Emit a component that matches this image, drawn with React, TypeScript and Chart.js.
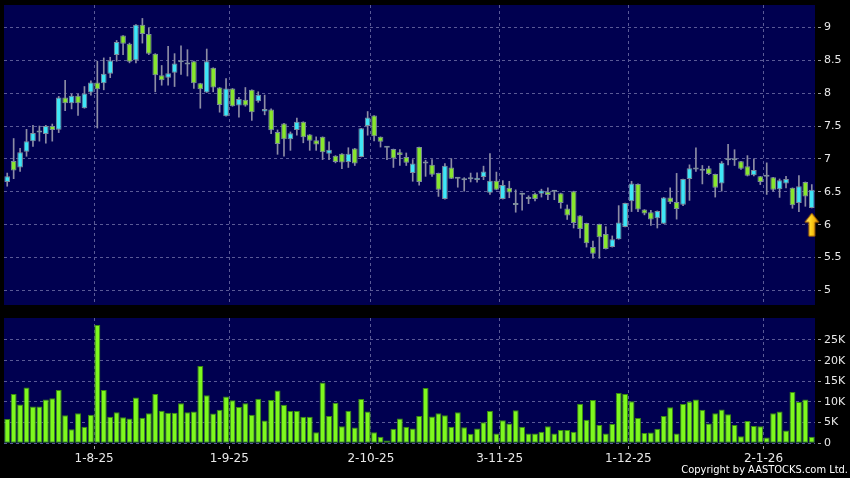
import React, { useEffect, useRef } from 'react';
import { Chart, registerables } from 'chart.js';
Chart.register(...registerables);

// ---- Data ----
const openP = [
  6.65, 6.97, 6.87, 7.11, 7.27, 7.40, 7.38, 7.50, 7.445, 7.935,
  7.845, 7.96, 7.77, 8.01, 8.16, 8.15, 8.295, 8.58, 8.875, 8.75,
  8.50, 9.04, 8.90, 8.60, 8.27, 8.235, 8.31, 8.47, 8.46, 8.485,
  8.15, 8.01, 8.385, 8.085, 7.65, 8.07, 7.81, 7.90, 8.05, 7.875,
  7.72, 7.75, 7.41, 7.54, 7.30, 7.44, 7.565, 7.37, 7.285, 7.335,
  7.08, 7.05, 7.08, 6.955, 7.16, 7.03, 7.50, 7.66, 7.335, 7.17,
  7.15, 7.10, 7.03, 6.785, 7.18, 6.95, 6.91, 6.785, 6.39, 6.87,
  6.70, 6.675, 6.70, 6.68, 6.725, 6.485, 6.67, 6.39, 6.56, 6.30,
  6.48, 6.39, 6.47, 6.47, 6.50, 6.50, 6.48, 6.245, 6.51, 6.14,
  6.025, 5.66, 6.01, 5.86, 5.66, 5.78, 5.965, 6.355, 6.62, 6.23,
  6.19, 6.10, 6.015, 6.415, 6.345, 6.305, 6.695, 6.86, 6.83, 6.86,
  6.77, 6.625, 6.98, 6.98, 6.965, 6.89, 6.75, 6.735, 6.74, 6.72,
  6.54, 6.625, 6.56, 6.33, 6.65, 6.255,
];
const highP = [
  6.785, 7.31, 7.16, 7.45, 7.51, 7.50, 7.51, 7.53, 7.95, 8.195,
  7.985, 7.985, 8.10, 8.185, 8.485, 8.535, 8.545, 8.80, 8.875, 8.76,
  9.04, 9.135, 8.985, 8.60, 8.42, 8.71, 8.60, 8.72, 8.66, 8.485,
  8.15, 8.67, 8.385, 8.085, 8.22, 8.07, 7.935, 8.085, 8.05, 8.02,
  7.97, 7.76, 7.44, 7.54, 7.41, 7.62, 7.565, 7.37, 7.335, 7.335,
  7.26, 7.05, 7.08, 7.17, 7.16, 7.465, 7.72, 7.66, 7.335, 7.19,
  7.15, 7.14, 7.09, 6.99, 7.18, 6.98, 6.99, 6.785, 6.93, 7.005,
  6.715, 6.715, 6.785, 6.79, 6.89, 7.08, 6.80, 6.67, 6.66, 6.53,
  6.48, 6.44, 6.48, 6.54, 6.56, 6.51, 6.48, 6.30, 6.51, 6.14,
  6.025, 5.75, 6.01, 5.97, 5.83, 6.29, 6.33, 6.66, 6.62, 6.23,
  6.22, 6.21, 6.415, 6.56, 6.78, 6.695, 6.91, 7.17, 6.90, 6.89,
  6.77, 6.96, 7.22, 7.14, 6.965, 7.05, 7.00, 6.735, 6.94, 6.72,
  6.695, 6.735, 6.56, 6.745, 6.65, 6.61,
];
const lowP = [
  6.585, 6.70, 6.81, 7.04, 7.19, 7.27, 7.24, 7.27, 7.40, 7.735,
  7.76, 7.66, 7.77, 7.97, 7.47, 8.05, 8.235, 8.485, 8.585, 8.46,
  8.46, 8.76, 8.585, 8.02, 8.12, 8.12, 8.10, 8.285, 8.26, 8.07,
  7.77, 8.01, 8.02, 7.71, 7.65, 7.80, 7.635, 7.80, 7.585, 7.86,
  7.67, 7.385, 7.07, 7.04, 7.13, 7.36, 7.245, 7.13, 7.13, 6.99,
  6.99, 6.94, 6.85, 6.87, 6.90, 7.03, 7.36, 7.275, 7.18, 6.99,
  6.87, 6.90, 6.90, 6.66, 6.60, 6.735, 6.735, 6.43, 6.39, 6.70,
  6.57, 6.51, 6.65, 6.645, 6.685, 6.46, 6.53, 6.39, 6.41, 6.19,
  6.22, 6.32, 6.36, 6.42, 6.38, 6.38, 6.25, 6.08, 5.95, 5.80,
  5.66, 5.49, 5.49, 5.63, 5.66, 5.78, 5.965, 6.20, 6.20, 6.15,
  5.99, 5.95, 6.015, 6.32, 6.085, 6.29, 6.37, 6.81, 6.62, 6.76,
  6.42, 6.51, 6.91, 6.90, 6.84, 6.74, 6.74, 6.61, 6.46, 6.51,
  6.415, 6.56, 6.25, 6.20, 6.28, 6.255,
];
const closeP = [
  6.735, 6.825, 7.10, 7.27, 7.395, 7.41, 7.50, 7.44, 7.935, 7.845,
  7.96, 7.845, 7.995, 8.16, 8.06, 8.295, 8.495, 8.775, 8.75, 8.475,
  9.04, 8.90, 8.60, 8.27, 8.195, 8.30, 8.45, 8.48, 8.435, 8.15,
  8.06, 8.485, 8.085, 7.82, 8.07, 7.80, 7.91, 7.81, 7.71, 7.975,
  7.76, 7.435, 7.225, 7.30, 7.39, 7.565, 7.33, 7.275, 7.22, 7.10,
  7.14, 6.955, 6.945, 7.08, 6.93, 7.465, 7.63, 7.345, 7.26, 7.17,
  7.005, 7.06, 6.94, 6.93, 6.65, 6.93, 6.76, 6.53, 6.895, 6.70,
  6.70, 6.70, 6.69, 6.715, 6.81, 6.67, 6.53, 6.605, 6.49, 6.30,
  6.455, 6.39, 6.39, 6.52, 6.45, 6.50, 6.33, 6.14, 6.025, 5.935,
  5.72, 5.56, 5.81, 5.63, 5.78, 6.035, 6.33, 6.625, 6.23, 6.17,
  6.08, 6.21, 6.415, 6.34, 6.24, 6.695, 6.86, 6.84, 6.82, 6.77,
  6.56, 6.94, 6.98, 6.98, 6.85, 6.745, 6.83, 6.65, 6.73, 6.53,
  6.675, 6.695, 6.295, 6.585, 6.43, 6.53,
];
// volume in thousands of shares
const volumeK = [
  5.9, 11.9, 9.4, 13.5, 8.9, 8.9, 10.6, 10.9, 12.9, 6.8,
  3.4, 7.3, 4.0, 6.9, 28.6, 12.9, 6.4, 7.5, 6.3, 6.0,
  11.1, 6.2, 7.3, 11.9, 7.9, 7.4, 7.4, 9.7, 7.5, 7.7,
  18.7, 11.6, 7.2, 8.1, 11.3, 10.4, 8.8, 9.7, 6.9, 10.8,
  5.5, 10.5, 12.8, 9.3, 7.8, 7.8, 6.4, 6.4, 2.7, 14.7,
  6.6, 9.8, 4.1, 7.9, 3.8, 10.7, 7.7, 2.7, 1.6, 0.7,
  3.5, 6.0, 4.0, 3.6, 6.6, 13.4, 6.5, 7.3, 6.8, 4.0,
  7.5, 3.9, 2.3, 3.6, 5.1, 7.8, 2.4, 5.6, 4.8, 8.0,
  4.0, 2.4, 2.4, 2.8, 4.1, 2.4, 3.2, 3.2, 2.8, 9.6,
  5.7, 10.5, 4.4, 2.4, 4.7, 12.2, 11.9, 10.2, 6.1, 2.5,
  2.6, 3.5, 6.6, 8.7, 2.4, 9.5, 10.1, 10.6, 8.1, 4.8,
  7.3, 8.2, 7.0, 4.4, 1.7, 5.4, 4.2, 4.1, 1.4, 7.3,
  7.7, 3.1, 12.4, 10.0, 10.6, 1.6,
];
const dateTickLabels = ['1-8-25', '1-9-25', '2-10-25', '3-11-25', '1-12-25', '2-1-26'];
const dateTickIndex = [13.5, 34.5, 56.5, 76.5, 96.5, 117.5];
const priceTicks = [5, 5.5, 6, 6.5, 7, 7.5, 8, 8.5, 9];
const volumeTicks = [0, 5000, 10000, 15000, 20000, 25000];
const markerIndex = [125];
const markerPrice = [6.0];

// ---- Styles ----
const NAVY = '#000050';
const GRID = '#5a5a96';
const TICK = '#a0a0a0';
const LABEL = '#e8e8e8';
const UP = '#3fe6f6';
const DOWN = '#88e62e';
const FLAT = '#9a9a9a';
const BODY_BORDER = '#7c8c9c';
const WICK = '#8c8ca4';
const VOL_FILL = '#7ef81e';
const VOL_BORDER = '#3a8c10';
const FONT = 'DejaVu Sans';

const bgPlugin = {
  id: 'plotBg',
  beforeDraw(chart: any) {
    const { ctx, chartArea } = chart;
    if (!chartArea) return;
    ctx.save();
    ctx.fillStyle = NAVY;
    ctx.fillRect(chartArea.left, chartArea.top, chartArea.right - chartArea.left, chartArea.bottom - chartArea.top);
    ctx.restore();
  },
};

function makeArrow() {
  const c = document.createElement('canvas');
  c.width = 16;
  c.height = 25;
  const g = c.getContext('2d')!;
  const grad = g.createLinearGradient(0, 0, 16, 0);
  grad.addColorStop(0, '#fff0a0');
  grad.addColorStop(0.45, '#ffd21a');
  grad.addColorStop(1, '#e09000');
  g.beginPath();
  g.moveTo(8, 1);
  g.lineTo(15, 10);
  g.lineTo(11, 10);
  g.lineTo(11, 24);
  g.lineTo(5, 24);
  g.lineTo(5, 10);
  g.lineTo(1, 10);
  g.closePath();
  g.fillStyle = grad;
  g.fill();
  g.strokeStyle = '#a86000';
  g.lineWidth = 1;
  g.stroke();
  return c;
}

const noPad = (s: any) => {
  s.paddingTop = 0;
  s.paddingBottom = 0;
  s.paddingLeft = 0;
  s.paddingRight = 0;
};

export default function App() {
  const priceRef = useRef<HTMLCanvasElement>(null);
  const volRef = useRef<HTMLCanvasElement>(null);

  useEffect(() => {
    const N = openP.length;
    const idx = openP.map((_, i) => i);
    const bodyColors = idx.map((i) =>
      closeP[i] > openP[i] ? UP : closeP[i] < openP[i] ? DOWN : FLAT
    );
    const dateTicksBuilder = (s: any) => {
      s.ticks = dateTickIndex.map((v) => ({ value: v }));
    };

    const priceChart = new Chart(priceRef.current!, {
      type: 'bar',
      data: {
        datasets: [
          {
            type: 'bar',
            label: 'wick',
            data: idx.map((i) => ({ x: i, y: [lowP[i], highP[i]] })) as any,
            backgroundColor: WICK,
            borderWidth: 0,
            barThickness: 1,
            grouped: false,
            order: 3,
          } as any,
          {
            type: 'bar',
            label: 'body',
            data: idx.map((i) => ({ x: i, y: [openP[i], closeP[i]] })) as any,
            backgroundColor: bodyColors,
            borderColor: BODY_BORDER,
            borderWidth: 1,
            borderSkipped: false,
            barPercentage: 0.88,
            categoryPercentage: 1,
            grouped: false,
            minBarLength: 2,
            order: 2,
          } as any,
          {
            type: 'scatter',
            label: 'marker',
            data: markerIndex.map((x, k) => ({ x, y: markerPrice[k] })),
            pointStyle: makeArrow(),
            pointRadius: 12,
            clip: false,
            order: 1,
          } as any,
        ],
      },
      options: {
        responsive: false,
        animation: false,
        devicePixelRatio: 1,
        layout: { autoPadding: false, padding: { left: 4, top: 5, right: 0, bottom: 5 } },
        plugins: { legend: { display: false }, tooltip: { enabled: false } },
        scales: {
          x: {
            type: 'linear',
            min: -0.5,
            max: N - 0.5,
            offset: false,
            afterBuildTicks: dateTicksBuilder,
            ticks: { display: false },
            grid: { color: GRID, drawTicks: false, offset: false },
            border: { display: false, dash: [3, 3] },
            afterFit: (s: any) => {
              s.height = 0;
              noPad(s);
            },
          },
          y: {
            position: 'right',
            min: 4.78,
            max: 9.339,
            afterBuildTicks: (s: any) => {
              s.ticks = priceTicks.map((v) => ({ value: v }));
            },
            ticks: {
              color: LABEL,
              font: { family: FONT, size: 11 },
              padding: 3,
              callback: (v: any) => String(v),
            },
            grid: { color: GRID, tickColor: TICK, tickLength: 6, tickBorderDash: [0, 3, 3, 20] },
            border: { display: false, dash: [3, 3] },
            afterFit: (s: any) => {
              s.width = 35;
              noPad(s);
            },
          },
        },
      } as any,
      plugins: [bgPlugin],
    });

    const volChart = new Chart(volRef.current!, {
      type: 'bar',
      data: {
        datasets: [
          {
            label: 'volume',
            data: idx.map((i) => ({ x: i, y: volumeK[i] * 1000 })),
            backgroundColor: VOL_FILL,
            borderColor: VOL_BORDER,
            borderWidth: 1,
            borderSkipped: false,
            barPercentage: 0.92,
            categoryPercentage: 1,
          } as any,
        ],
      },
      options: {
        responsive: false,
        animation: false,
        devicePixelRatio: 1,
        layout: { autoPadding: false, padding: { left: 4, top: 8, right: 0, bottom: 0 } },
        plugins: { legend: { display: false }, tooltip: { enabled: false } },
        scales: {
          x: {
            type: 'linear',
            min: -0.5,
            max: N - 0.5,
            offset: false,
            afterBuildTicks: dateTicksBuilder,
            ticks: {
              color: LABEL,
              font: { family: FONT, size: 12 },
              padding: 2,
              autoSkip: false,
              maxRotation: 0,
              callback: (_v: any, i: number) => dateTickLabels[i],
            },
            grid: { color: GRID, tickColor: TICK, tickLength: 6, tickBorderDash: [0, 3, 3, 20], offset: false },
            border: { display: false, dash: [3, 3] },
            afterFit: (s: any) => {
              s.height = 34.7;
              noPad(s);
            },
          },
          y: {
            position: 'right',
            min: 0,
            max: 30320,
            afterBuildTicks: (s: any) => {
              s.ticks = volumeTicks.map((v) => ({ value: v }));
            },
            ticks: {
              color: LABEL,
              font: { family: FONT, size: 11 },
              padding: 3,
              callback: (v: any) => (v === 0 ? '0' : v / 1000 + 'K'),
            },
            grid: { color: GRID, tickColor: TICK, tickLength: 6, tickBorderDash: [0, 3, 3, 20] },
            border: { display: false, dash: [3, 3] },
            afterFit: (s: any) => {
              s.width = 35;
              noPad(s);
            },
          },
        },
      } as any,
      plugins: [bgPlugin],
    });

    return () => {
      priceChart.destroy();
      volChart.destroy();
    };
  }, []);

  return (
    <div
      style={{
        position: 'fixed',
        left: 0,
        top: 0,
        width: 850,
        height: 478,
        background: '#000',
        overflow: 'hidden',
      }}
    >
      <canvas
        ref={priceRef}
        width={850}
        height={310}
        style={{ position: 'absolute', left: 0, top: 0, width: 850, height: 310, display: 'block' }}
      />
      <canvas
        ref={volRef}
        width={850}
        height={168}
        style={{ position: 'absolute', left: 0, top: 310, width: 850, height: 168, display: 'block' }}
      />
      <div
        style={{
          position: 'absolute',
          right: 2,
          top: 463,
          color: '#ffffff',
          font: `11px "DejaVu Sans Condensed", "${FONT}", sans-serif`,
          whiteSpace: 'nowrap',
          lineHeight: '13px',
        }}
      >
        Copyright by AASTOCKS.com Ltd.
      </div>
    </div>
  );
}
